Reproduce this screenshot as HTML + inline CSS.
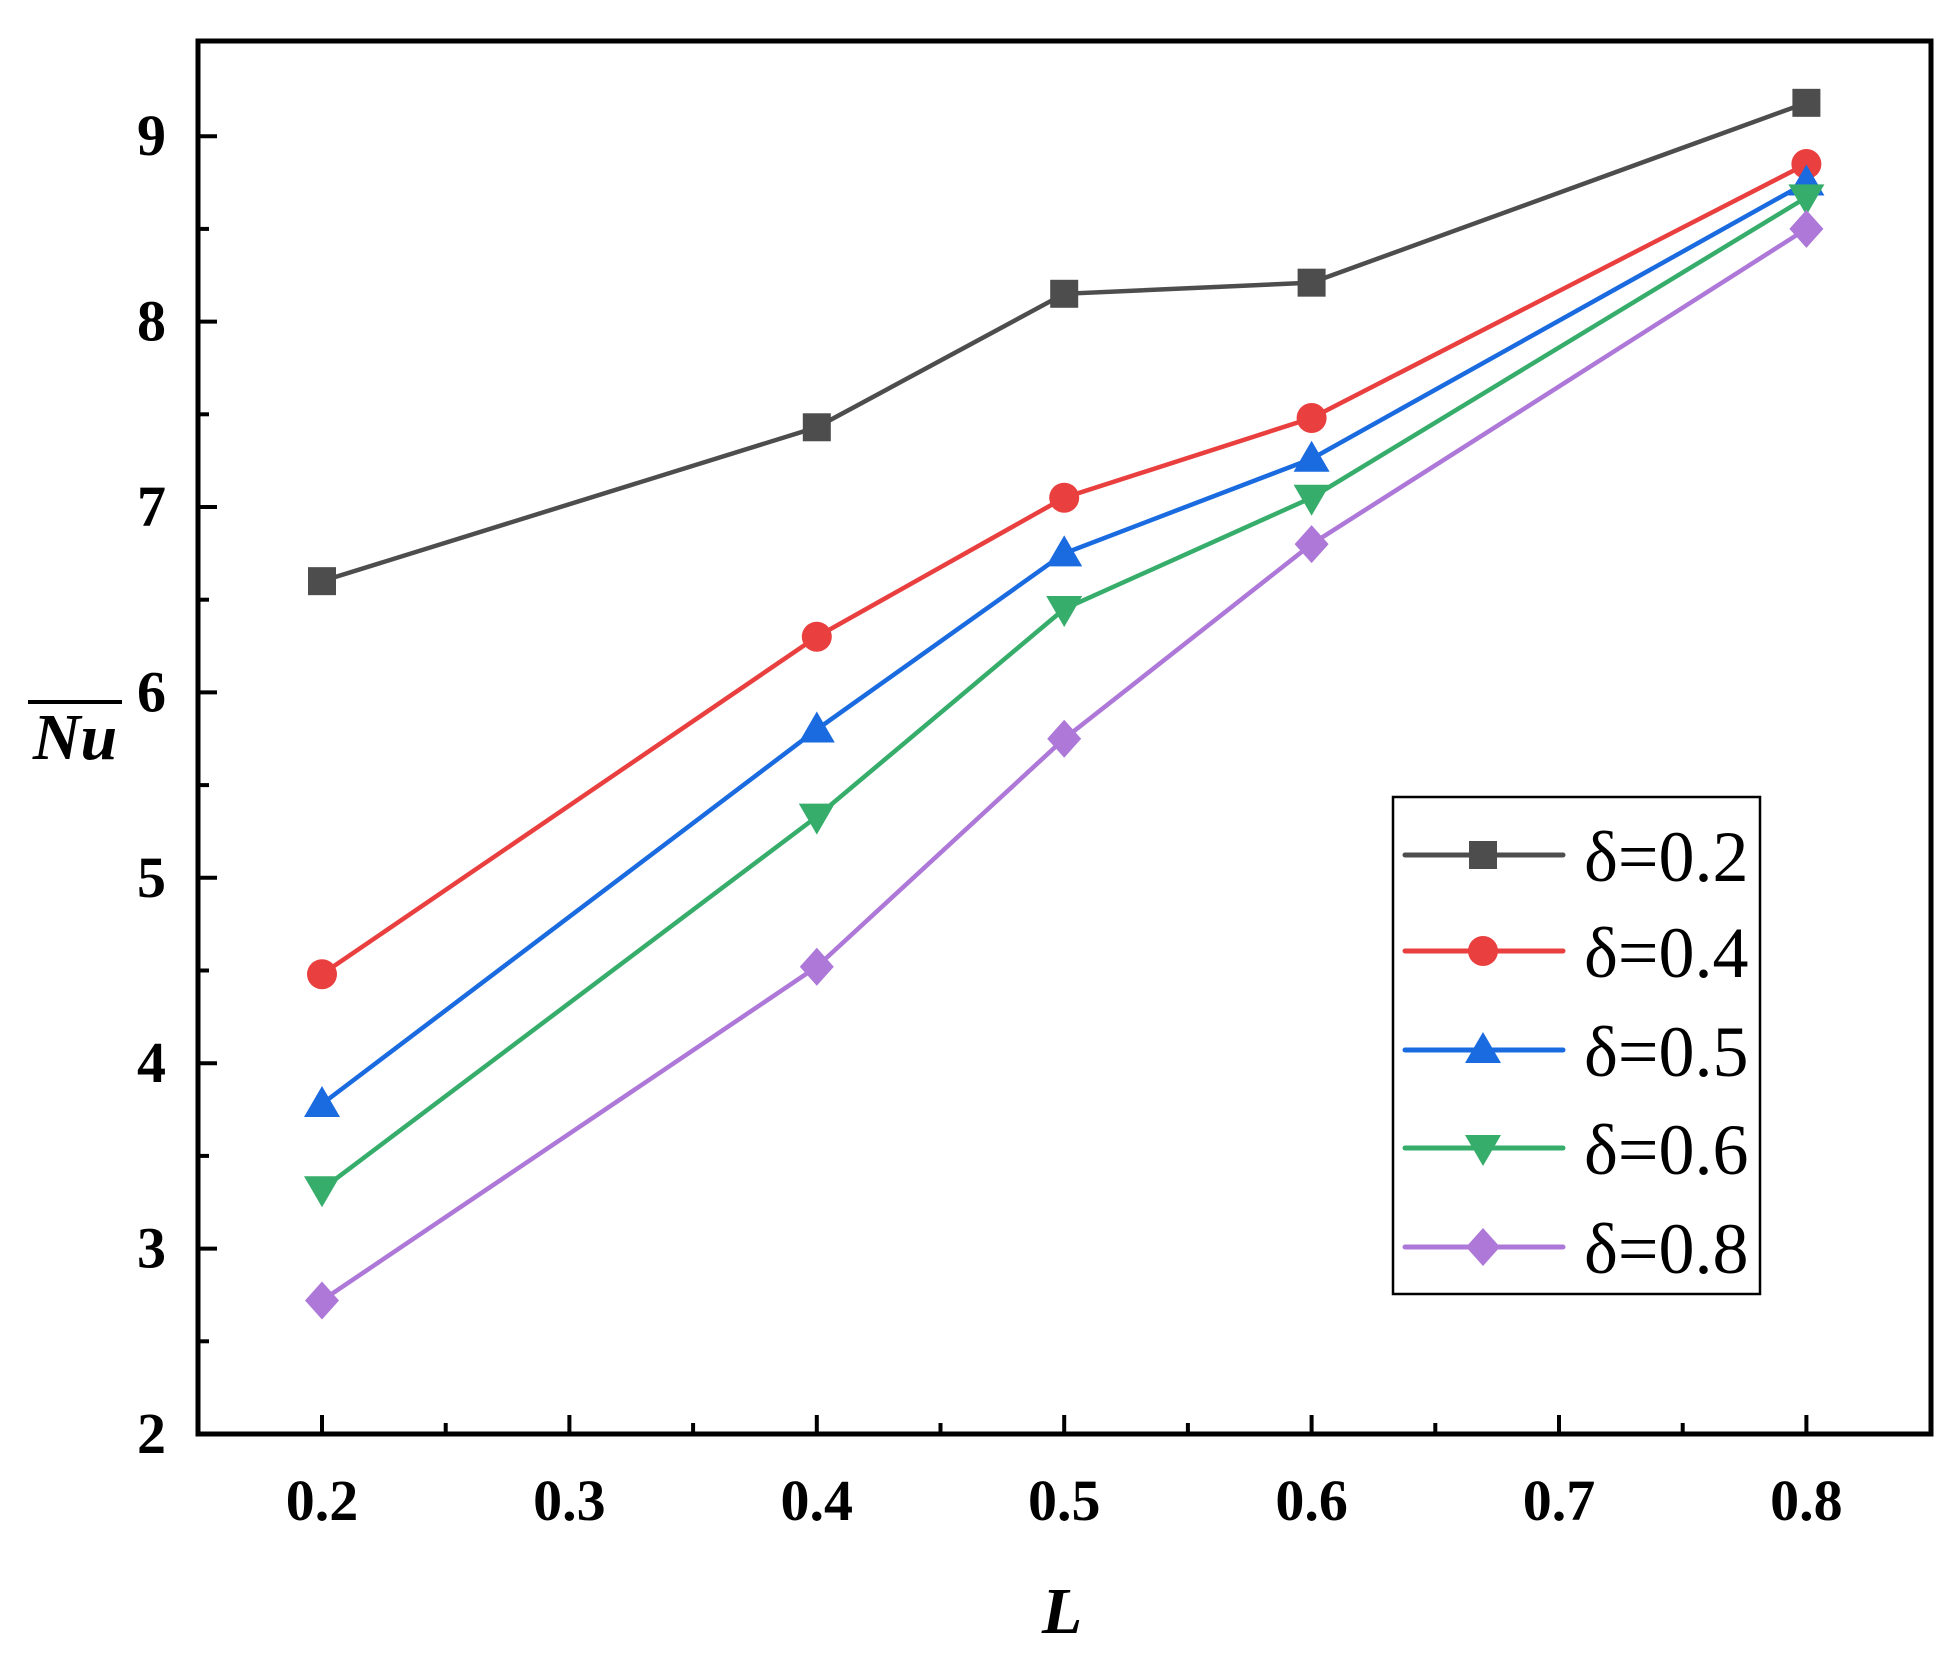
<!DOCTYPE html>
<html><head><meta charset="utf-8"><style>html,body{margin:0;padding:0;background:#fff}</style></head>
<body>
<svg width="1950" height="1662" viewBox="0 0 1950 1662" xmlns="http://www.w3.org/2000/svg" style="font-family:'Liberation Serif',serif">
<rect width="1950" height="1662" fill="#fff"/>
<script>
(function(){
const X=v=>322+(v-0.2)*2474, Y=v=>1434-(v-2)*185.4;
const ns="http://www.w3.org/2000/svg";
const svg=document.querySelector('svg');
function el(t,a,txt){const e=document.createElementNS(ns,t);for(const k in a)e.setAttribute(k,a[k]);if(txt)e.textContent=txt;svg.appendChild(e);return e;}
for(let k=0;k<=13;k++){const v=0.2+k*0.05;const x=X(v);if(x>1925)break;const maj=k%2==0;el('line',{x1:x,x2:x,y1:1434,y2:1434-(maj?19:11),stroke:'#000','stroke-width':4});}
for(let k=0;k<=14;k++){const v=2+k*0.5;const y=Y(v);const maj=k%2==0;el('line',{x1:198,x2:198+(maj?19:11),y1:y,y2:y,stroke:'#000','stroke-width':4});
 if(maj)el('text',{x:166,y:y+19,'text-anchor':'end','font-size':58,'font-weight':'bold'},String(v));}
[0.2,0.3,0.4,0.5,0.6,0.7,0.8].forEach(v=>el('text',{x:X(v),y:1520,'text-anchor':'middle','font-size':58,'font-weight':'bold'},v.toFixed(1)));
el('rect',{x:198,y:41,width:1733,height:1393,fill:'none',stroke:'#000','stroke-width':5});
const xs=[0.2,0.4,0.5,0.6,0.8];
const S=[
 ['#4d4d4d','sq',[6.6,7.43,8.15,8.21,9.18],'0.2'],
 ['#ea3f3f','ci',[4.48,6.3,7.05,7.48,8.85],'0.4'],
 ['#1a6ae0','up',[3.78,5.8,6.75,7.26,8.75],'0.5'],
 ['#36ad6a','dn',[3.32,5.33,6.45,7.05,8.67],'0.6'],
 ['#ad78d8','di',[2.72,4.52,5.75,6.8,8.5],'0.8']];
function mk(t,x,y,c){
 if(t=='sq')el('rect',{x:x-14,y:y-14,width:28,height:28,fill:c});
 if(t=='ci')el('circle',{cx:x,cy:y,r:15,fill:c});
 if(t=='up')el('polygon',{points:`${x},${y-18} ${x+18},${y+13} ${x-18},${y+13}`,fill:c});
 if(t=='dn')el('polygon',{points:`${x},${y+18} ${x+18},${y-13} ${x-18},${y-13}`,fill:c});
 if(t=='di')el('polygon',{points:`${x},${y-19} ${x+17},${y} ${x},${y+19} ${x-17},${y}`,fill:c});
}
S.forEach(s=>{el('polyline',{points:xs.map((x,i)=>X(x)+','+Y(s[2][i])).join(' '),fill:'none',stroke:s[0],'stroke-width':4.5});
 xs.forEach((x,i)=>mk(s[1],X(x),Y(s[2][i]),s[0]));});
el('rect',{x:1393,y:797,width:367,height:497,fill:'#fff',stroke:'#000','stroke-width':2.5});
const ly=[855,951,1050,1148,1247];
S.forEach((s,i)=>{el('line',{x1:1405,x2:1563,y1:ly[i],y2:ly[i],stroke:s[0],'stroke-width':5,'stroke-linecap':'round'});mk(s[1],1483,ly[i],s[0]);
 el('text',{x:1584,y:ly[i]+26,'font-size':72},'δ=0.'+s[3].slice(2));});
el('text',{x:1062,y:1633,'text-anchor':'middle','font-size':66,'font-weight':'bold','font-style':'italic'},'L');
el('text',{x:75,y:759,'text-anchor':'middle','font-size':66,'font-weight':'bold','font-style':'italic'},'Nu');
el('line',{x1:28,x2:122,y1:702,y2:702,stroke:'#000','stroke-width':4});
})();
</script>
</svg>
</body></html>
